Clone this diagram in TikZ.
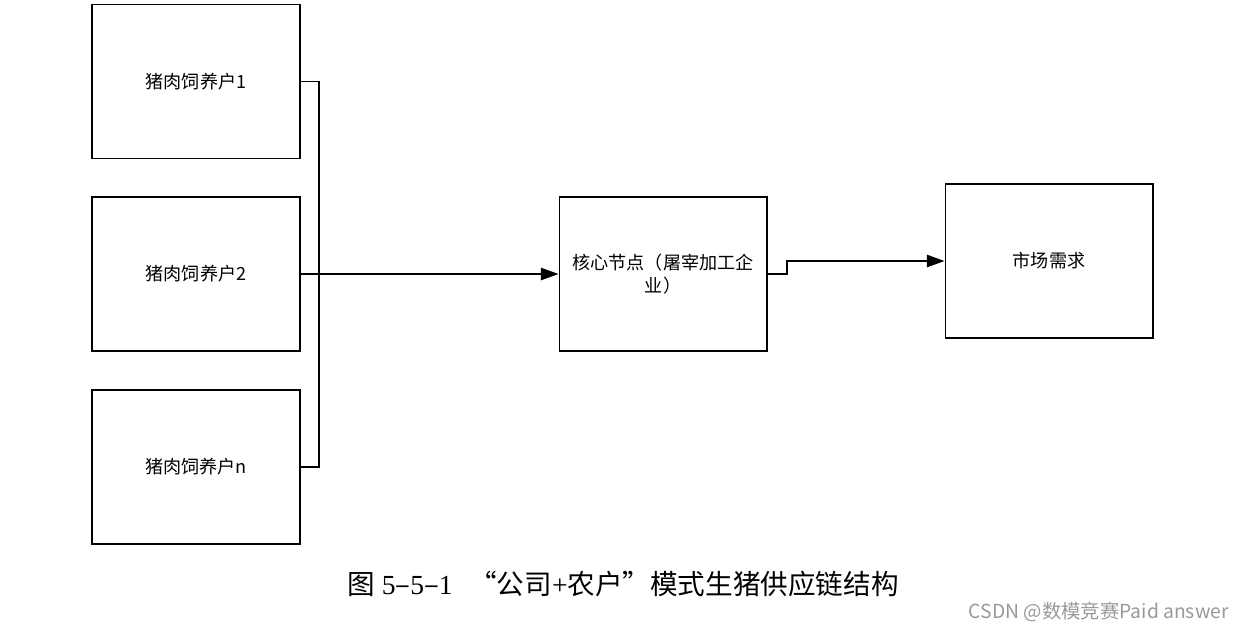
\documentclass[tikz,border=0pt]{standalone}
\usepackage{fontspec}
\setmainfont{Liberation Serif}
\newfontfamily\cjksans{Noto Sans CJK SC}
\usetikzlibrary{arrows.meta}
\pgfdeclarelayer{nodelayer}
\pgfdeclarelayer{edgelayer}
\pgfsetlayers{edgelayer,nodelayer,main}
\tikzstyle{box style}=[fill=white, draw=black, line width=0.6pt, shape=rectangle, minimum width=4.16cm, minimum height=3.08cm, inner sep=0pt, align=center, font=\cjksans\fontsize{10.3}{13}\selectfont]
\tikzstyle{edge style}=[draw=black, line width=0.9pt]
\tikzstyle{arrow edge style}=[draw=black, line width=0.9pt, -{Triangle[length=10pt,width=7pt]}]
\tikzstyle{caption style}=[inner sep=0pt, font=\fontsize{15.7}{18}\selectfont]

\begin{document}
\begin{tikzpicture}[x=0.02cm, y=-0.02cm]
	\useasboundingbox (0, 0) rectangle (1244, 632);
	\begin{pgfonlayer}{nodelayer}
		\node [style=box style] (0) at (196, 81.5) {猪肉饲养户1};
		\node [style=box style] (1) at (196, 274) {猪肉饲养户2};
		\node [style=box style] (2) at (196, 467) {猪肉饲养户n};
		\node [style=box style] (3) at (663, 274) {核心节点（屠宰加工企\\业）};
		\node [style=box style] (4) at (1049, 261) {市场需求};
		\coordinate (5) at (319, 274);
		\coordinate (6) at (787, 274);
		\node [style=caption style] (7) at (623, 584) {{\cjksans 图} 5{\cjksans –}5{\cjksans –}1\hspace{0.6em}{\cjksans “公司}+{\cjksans 农户”模式生猪供应链结构}};
		\node [inner sep=0pt, anchor=east, text=black!40, font=\cjksans\fontsize{11}{13}\selectfont] (8) at (1229, 612) {CSDN @数模竞赛Paid answer};
	\end{pgfonlayer}
	\begin{pgfonlayer}{edgelayer}
		\draw [style=edge style] (0.east) -| (5) |- (2.east);
		\draw [style=arrow edge style] (1.east) -- (3.west);
		\draw [style=arrow edge style] (3.east) -- (6) |- (4.west);
	\end{pgfonlayer}
\end{tikzpicture}
\end{document}
